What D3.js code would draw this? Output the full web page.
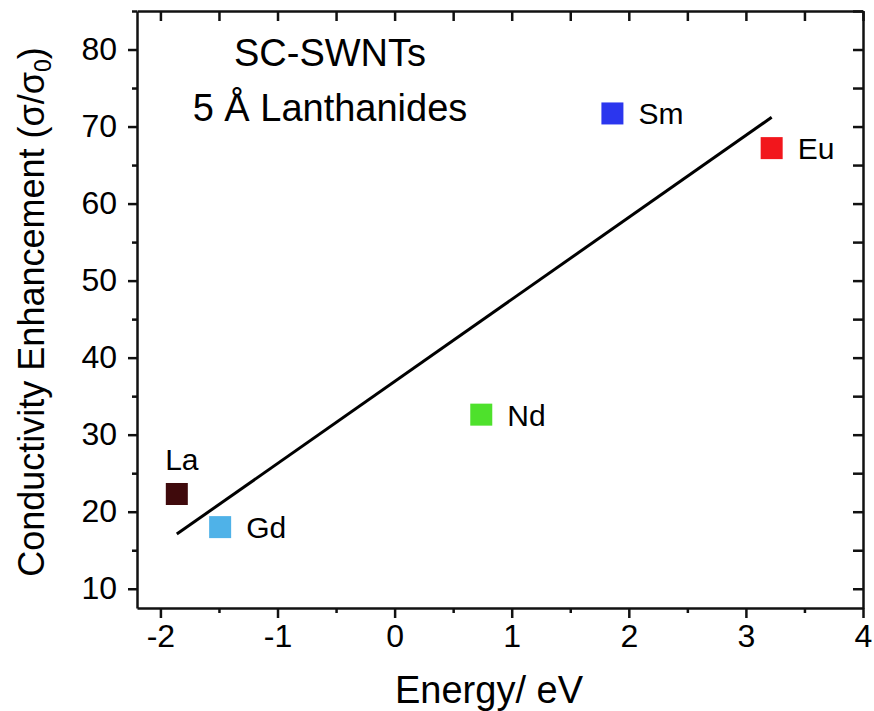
<!DOCTYPE html>
<html>
<head>
<meta charset="utf-8">
<script src="https://cdn.jsdelivr.net/npm/d3@7"></script>
<style>
  body { margin: 0; background: #fff; }
  svg { display: block; font-family: "Liberation Sans", Arial, sans-serif; }
</style>
</head>
<body>
<svg id="chart" width="874" height="711"></svg>
<script>
// Lanthanide dopants: energy (eV) vs conductivity enhancement
const elements = ["La", "Gd", "Nd", "Sm", "Eu"];
const energy = [-1.86, -1.49, 0.74, 1.86, 3.22];
const enhancement = [22.3, 18.0, 32.6, 71.7, 67.2];
const colors = ["#3f0a0c", "#4fb2e8", "#4ee12c", "#2b36ee", "#f2161c"];
// label placement relative to each marker
const labelSide = ["above", "right", "right", "right", "right"];

// linear fit endpoints
const fitX = [-1.86, 3.22];
const fitY = [17.1, 71.2];

const xTicks = [-2, -1, 0, 1, 2, 3, 4];
const yTicks = [10, 20, 30, 40, 50, 60, 70, 80];
const titleLines = ["SC-SWNTs", "5 Å Lanthanides"];

const svg = d3.select("#chart");
const L = 137, R = 863, T = 11, B = 608;

const x = d3.scaleLinear().domain([-2.2, 4]).range([L, R]);
const y = d3.scaleLinear().domain([7.5, 85]).range([B, T]);

const axisStroke = 2.5;
const minorX = d3.range(-2, 4.01, 0.5);
const minorY = d3.range(10, 85.01, 5);

// bottom axis: outward ticks, major long / minor short
const gB = svg.append("g").attr("transform", `translate(0,${B})`);
gB.call(d3.axisBottom(x).tickValues(minorX).tickSize(0).tickFormat(""));
gB.selectAll(".tick").append("line")
  .attr("y2", d => Number.isInteger(d) ? 10 : 5);
const gBl = svg.append("g").attr("transform", `translate(0,${B})`)
  .call(d3.axisBottom(x).tickValues(xTicks).tickSize(0).tickPadding(16).tickFormat(d3.format("d")));
gBl.select(".domain").remove();
gBl.selectAll("text").attr("font-size", 32).attr("fill", "#000").attr("dy", "0.71em")
  .text(d => d < 0 ? "-" + Math.abs(d) : d);

// left axis
const gL = svg.append("g").attr("transform", `translate(${L},0)`);
gL.call(d3.axisLeft(y).tickValues(minorY).tickSize(0).tickFormat(""));
gL.selectAll(".tick").append("line")
  .attr("x2", d => (d % 10 === 0) ? -9 : -5);
const gLl = svg.append("g").attr("transform", `translate(${L},0)`)
  .call(d3.axisLeft(y).tickValues(yTicks).tickSize(0).tickPadding(20));
gLl.select(".domain").remove();
gLl.selectAll("text").attr("font-size", 32).attr("fill", "#000");

// top and right mirror axes with inward ticks
const gT = svg.append("g").attr("transform", `translate(0,${T})`);
gT.call(d3.axisTop(x).tickValues(minorX).tickSize(0).tickFormat(""));
gT.selectAll(".tick").append("line").attr("y2", 10);
const gR = svg.append("g").attr("transform", `translate(${R},0)`);
gR.call(d3.axisRight(y).tickValues(minorY).tickSize(0).tickFormat(""));
gR.selectAll(".tick").append("line").attr("x2", -10);

svg.selectAll(".domain").attr("stroke", "#111").attr("stroke-width", axisStroke);
svg.selectAll(".tick line").attr("stroke", "#111").attr("stroke-width", axisStroke);

// fit line
svg.append("line")
  .attr("x1", x(fitX[0])).attr("y1", y(fitY[0]))
  .attr("x2", x(fitX[1])).attr("y2", y(fitY[1]))
  .attr("stroke", "#000").attr("stroke-width", 3);

// markers
const pts = elements.map((name, i) => ({ name, ex: energy[i], en: enhancement[i], c: colors[i], side: labelSide[i] }));
const sz = 22;
svg.selectAll("rect.pt").data(pts).join("rect")
  .attr("class", "pt")
  .attr("x", d => x(d.ex) - sz / 2).attr("y", d => y(d.en) - sz / 2)
  .attr("width", sz).attr("height", sz)
  .attr("fill", d => d.c);

svg.selectAll("text.lbl").data(pts).join("text")
  .attr("class", "lbl")
  .attr("x", d => d.side === "above" ? x(d.ex) + 5 : x(d.ex) + 26)
  .attr("y", d => d.side === "above" ? y(d.en) - 24 : y(d.en) + 11)
  .attr("text-anchor", d => d.side === "above" ? "middle" : "start")
  .attr("font-size", 30)
  .text(d => d.name);

// annotation
svg.selectAll("text.title").data(titleLines).join("text")
  .attr("class", "title")
  .attr("x", 330).attr("y", (d, i) => 66 + i * 55)
  .attr("text-anchor", "middle")
  .attr("font-size", 38)
  .text(d => d);

// axis titles
svg.append("text")
  .attr("x", 489).attr("y", 703)
  .attr("text-anchor", "middle")
  .attr("font-size", 38)
  .text("Energy/ eV");

const yl = svg.append("text")
  .attr("transform", `translate(44,312) rotate(-90)`)
  .attr("text-anchor", "middle")
  .attr("font-size", 36);
yl.append("tspan").text("Conductivity Enhancement (σ/σ");
yl.append("tspan").attr("font-size", 23).attr("dy", 7).text("0");
yl.append("tspan").attr("dy", -7).text(")");
</script>
</body>
</html>
